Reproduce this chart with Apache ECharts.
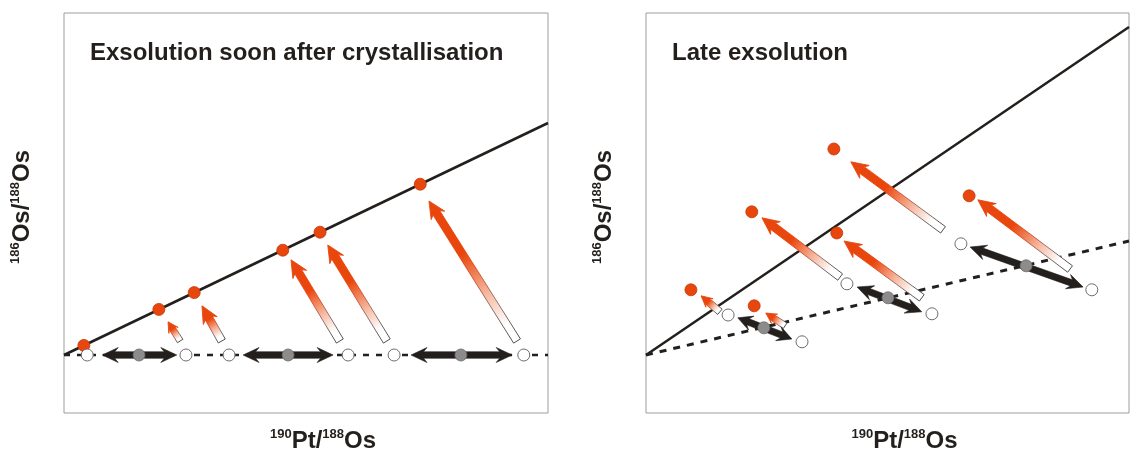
<!DOCTYPE html>
<html><head><meta charset="utf-8">
<script src="https://cdn.jsdelivr.net/npm/echarts@6/dist/echarts.min.js"></script>
<style>html,body{margin:0;padding:0;background:#fff}#c{width:1130px;height:455px}</style>
</head><body><div id="c"></div>
<script>
// ---------- Data (arbitrary units, x: 190Pt/188Os, y: 186Os/188Os) ----------
const leftTitle = 'Exsolution soon after crystallisation';
const rightTitle = 'Late exsolution';
const xName = '{sup|190}{b|Pt/}{sup|188}{b|Os}';
const yName = '{sup|186}{b|Os/}{sup|188}{b|Os}';

// Left panel
const leftIsochron = [[0, 1.45], [10, 7.25]];
const leftInitial = [[0, 1.45], [10, 1.45]];
const leftRedDots = [[0.41, 1.69], [1.96, 2.59], [2.69, 3.01], [4.52, 4.07], [5.29, 4.52], [7.36, 5.72]];
const leftOpen = [[0.48, 1.45], [2.52, 1.45], [3.41, 1.45], [5.87, 1.45], [6.82, 1.45], [9.50, 1.45]];
const leftGray = [[1.55, 1.45], [4.63, 1.45], [8.20, 1.45]];
const leftDouble = [[0.79, 1.45, 2.33, 1.45], [3.70, 1.45, 5.56, 1.45], [7.17, 1.45, 9.26, 1.45]];
const leftGrowth = [[2.40, 1.80, 2.15, 2.28], [3.26, 1.80, 2.85, 2.68], [5.70, 1.80, 4.69, 3.83],
                    [6.67, 1.80, 5.45, 4.20], [9.36, 1.80, 7.54, 5.30]];

// Right panel
const rightIsochron = [[0, 1.45], [10, 9.65]];
const rightInitial = [[0, 1.45], [10, 4.30]];
const rightRedDots = [[0.93, 3.08], [2.24, 2.68], [2.19, 5.03], [3.95, 4.50], [3.89, 6.60], [6.69, 5.43]];
const rightOpen = [[1.70, 2.45], [3.23, 1.78], [4.16, 3.23], [5.92, 2.48], [6.52, 4.23], [9.23, 3.08]];
const rightGray = [[2.44, 2.13], [5.01, 2.88], [7.87, 3.68]];
const rightDouble = [[1.90, 2.38, 3.02, 1.85], [4.37, 3.15, 5.71, 2.53], [6.71, 4.15, 9.05, 3.15]];
const rightGrowth = [[1.53, 2.53, 1.14, 2.93], [2.88, 2.18, 2.48, 2.50], [4.02, 3.40, 2.40, 4.88],
                     [5.71, 2.88, 4.10, 4.30], [6.15, 4.58, 4.24, 6.28], [8.78, 3.60, 6.87, 5.33]];

// ---------- Styles ----------
const RED = '#e9460e';
const DARK = '#231f1c';
const FONT = '"Liberation Sans", Arial, sans-serif';

function growthArrow(params, api) {
  const a = api.coord([api.value(0), api.value(1)]);
  const b = api.coord([api.value(2), api.value(3)]);
  const dx = b[0] - a[0], dy = b[1] - a[1];
  const L = Math.hypot(dx, dy);
  const ux = dx / L, uy = dy / L, nx = -uy, ny = ux;
  const hl = Math.min(17, L * 0.45);
  const hw = Math.min(16, Math.max(11, L * 0.45));
  const w = Math.min(8, Math.max(6, L * 0.28));
  const bx = b[0] - ux * hl, by = b[1] - uy * hl;
  const nbx = b[0] - ux * (hl - 3), nby = b[1] - uy * (hl - 3);
  const pts = [
    [a[0] + nx * w / 2, a[1] + ny * w / 2],
    [nbx + nx * w / 2, nby + ny * w / 2],
    [bx + nx * hw / 2, by + ny * hw / 2],
    [b[0], b[1]],
    [bx - nx * hw / 2, by - ny * hw / 2],
    [nbx - nx * w / 2, nby - ny * w / 2],
    [a[0] - nx * w / 2, a[1] - ny * w / 2]
  ];
  return {
    type: 'polygon', shape: { points: pts },
    style: {
      fill: { type: 'linear', x: a[0], y: a[1], x2: b[0], y2: b[1], global: true,
        colorStops: [{ offset: 0, color: '#ffffff' }, { offset: 0.12, color: '#ffffff' },
                     { offset: 0.35, color: '#f6b49b' }, { offset: 0.62, color: RED }, { offset: 1, color: RED }] },
      stroke: { type: 'linear', x: a[0], y: a[1], x2: b[0], y2: b[1], global: true,
        colorStops: [{ offset: 0, color: '#3a3a3a' }, { offset: 0.25, color: '#7a6a66' },
                     { offset: 0.55, color: RED }, { offset: 1, color: RED }] },
      lineWidth: 0.9
    }
  };
}

function doubleArrow(params, api) {
  const a = api.coord([api.value(0), api.value(1)]);
  const b = api.coord([api.value(2), api.value(3)]);
  const dx = b[0] - a[0], dy = b[1] - a[1];
  const L = Math.hypot(dx, dy);
  const ux = dx / L, uy = dy / L, nx = -uy, ny = ux;
  const hl = Math.min(16, L * 0.25), hw = 15, w = 6.5, notch = 3.5;
  const p = (base, along, side) => [base[0] + ux * along + nx * side, base[1] + uy * along + ny * side];
  const pts = [
    a,
    p(a, hl, hw / 2), p(a, hl - notch, w / 2),
    p(b, -(hl - notch), w / 2), p(b, -hl, hw / 2),
    b,
    p(b, -hl, -hw / 2), p(b, -(hl - notch), -w / 2),
    p(a, hl - notch, -w / 2), p(a, hl, -hw / 2)
  ];
  return { type: 'polygon', shape: { points: pts }, style: { fill: DARK, stroke: DARK, lineWidth: 0.6 } };
}

function panelSeries(idx, iso, ini, red, open, gray, dbl, growth, dash) {
  const ax = { xAxisIndex: idx, yAxisIndex: idx };
  return [
    Object.assign({ type: 'line', data: iso, symbol: 'none', z: 1, silent: true,
      lineStyle: { color: DARK, width: 2.5 } }, ax),
    Object.assign({ type: 'line', data: ini, symbol: 'none', z: 1, silent: true,
      lineStyle: { color: DARK, width: dash.w, type: dash.t } }, ax),
    Object.assign({ type: 'custom', renderItem: growthArrow, data: growth, z: 3, silent: true,
      encode: { x: [0, 2], y: [1, 3] } }, ax),
    Object.assign({ type: 'custom', renderItem: doubleArrow, data: dbl, z: 3, silent: true,
      encode: { x: [0, 2], y: [1, 3] } }, ax),
    Object.assign({ type: 'scatter', data: red, symbolSize: 12, z: 5, silent: true,
      itemStyle: { color: RED, borderColor: '#c0380a', borderWidth: 0.8, opacity: 1 } }, ax),
    Object.assign({ type: 'scatter', data: open, symbolSize: 12, z: 5, silent: true,
      itemStyle: { color: '#ffffff', borderColor: '#6e6e6e', borderWidth: 1, opacity: 1 } }, ax),
    Object.assign({ type: 'scatter', data: gray, symbolSize: 12, z: 5, silent: true,
      itemStyle: { color: '#8c8c8c', borderColor: '#6a6a6a', borderWidth: 0.8, opacity: 1 } }, ax)
  ];
}

const rich = {
  b: { fontFamily: FONT, fontWeight: 'bold', fontSize: 24, color: DARK, lineHeight: 26 },
  sup: { fontFamily: FONT, fontWeight: 'bold', fontSize: 13, color: DARK, verticalAlign: 'top', lineHeight: 26 }
};

function xAxis(i) {
  return { gridIndex: i, type: 'value', min: 0, max: 10,
    axisLine: { show: false }, axisTick: { show: false }, axisLabel: { show: false }, splitLine: { show: false },
    name: xName, nameLocation: 'middle', nameGap: 15,
    nameTextStyle: { rich: rich, padding: [0, 0, 0, 34] } };
}
function yAxis(i) {
  return { gridIndex: i, type: 'value', min: 0, max: 10,
    axisLine: { show: false }, axisTick: { show: false }, axisLabel: { show: false }, splitLine: { show: false },
    name: yName, nameLocation: 'middle', nameGap: 29, nameRotate: 90,
    nameTextStyle: { rich: rich, padding: [0, 0, 0, 12] } };
}

const chart = echarts.init(document.getElementById('c'), null, { renderer: 'canvas' });
chart.setOption({
  animation: false,
  backgroundColor: '#ffffff',
  grid: [
    { left: 64, top: 13, width: 484, height: 400, show: true, borderColor: '#9d9d9d', borderWidth: 1,
      backgroundColor: 'transparent', containLabel: false, outerBoundsMode: 'none' },
    { left: 646, top: 13, width: 483, height: 400, show: true, borderColor: '#9d9d9d', borderWidth: 1,
      backgroundColor: 'transparent', containLabel: false, outerBoundsMode: 'none' }
  ],
  xAxis: [xAxis(0), xAxis(1)],
  yAxis: [yAxis(0), yAxis(1)],
  graphic: [
    { type: 'text', left: 90, top: 41, z: 10,
      style: { text: leftTitle, font: 'bold 24px ' + FONT, fill: DARK } },
    { type: 'text', left: 672, top: 41, z: 10,
      style: { text: rightTitle, font: 'bold 24px ' + FONT, fill: DARK } }
  ],
  series: [].concat(
    panelSeries(0, leftIsochron, leftInitial, leftRedDots, leftOpen, leftGray, leftDouble, leftGrowth, { w: 2.5, t: [6, 7] }),
    panelSeries(1, rightIsochron, rightInitial, rightRedDots, rightOpen, rightGray, rightDouble, rightGrowth, { w: 3, t: [7, 7] })
  )
});
</script>
</body></html>
